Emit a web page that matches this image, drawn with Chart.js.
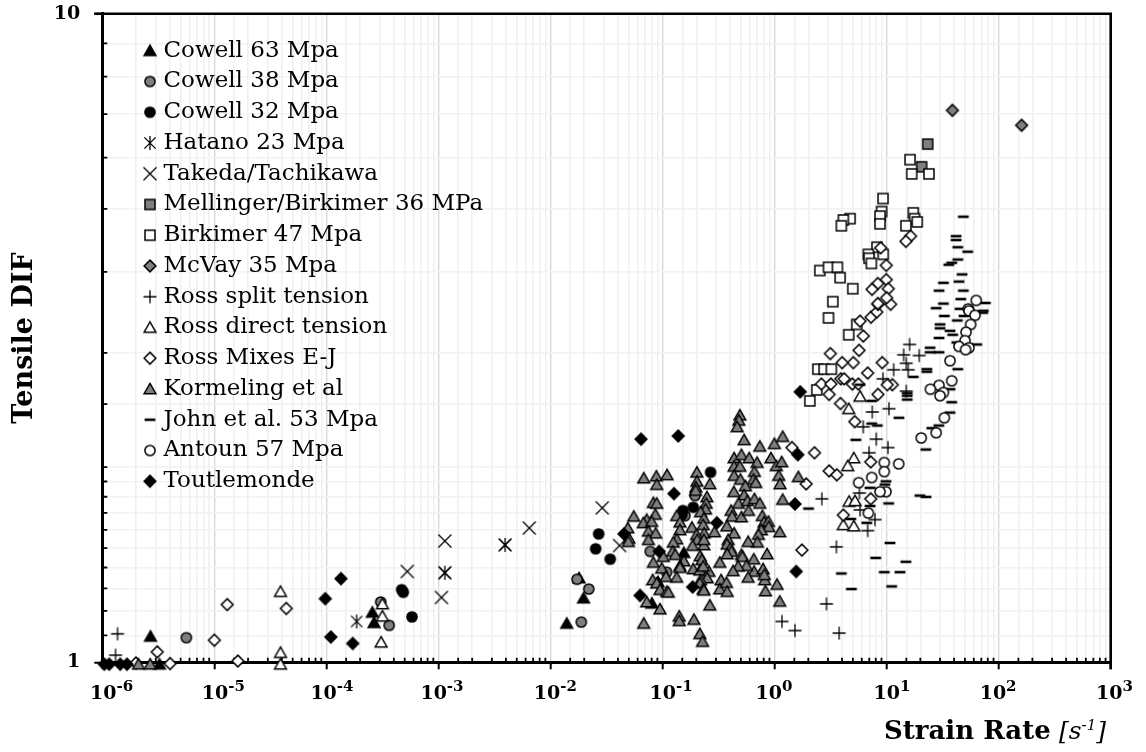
<!DOCTYPE html>
<html>
<head>
<meta charset="utf-8">
<title>Tensile DIF vs strain rate</title>
<script src="https://cdn.jsdelivr.net/npm/chart.js@4"></script>
<style>html,body{margin:0;padding:0;background:#fff}canvas{display:block}</style>
</head>
<body>
<canvas id="c" width="1146" height="752"></canvas>
<script>
// Values, as [log10(strain rate), log10(DIF)].
const cowell63 = [[-5.57,.040],[-5.49,-.003],[-3.59,.077],[-3.575,.061],[-1.855,.060],[-1.705,.099],[-1.745,.130],[-1.095,.091],[-.81,.169],[-1.04,.124]];
const cowell38 = [[-5.25,.038],[-3.515,.093],[-3.44,.057],[-1.763,.128],[-1.658,.113],[-1.725,.062],[-1.11,.171],[-.963,.139],[-.71,.257],[-.80,.226]];
const cowell32 = [[-3.328,.112],[-3.314,.108],[-3.236,.070],[-1.57,.198],[-1.597,.175],[-1.467,.159],[-.818,.234],[-.726,.239],[-.571,.293],[-.829,.227]];
const hatano23 = [[-3.73,.063],[-2.943,.138],[-2.405,.181]];
const takeda = [[-3.278,.140],[-2.943,.187],[-2.973,.100],[-1.538,.238],[-2.189,.207],[-1.383,.180],[-2.943,.138],[-2.405,.181]];
const mellinger36 = [[1.367,.799],[1.313,.764]];
const birkimer47 = [[1.209,.775],[1.224,.753],[1.378,.753],[.968,.715],[.956,.695],[.941,.688],[.941,.676],[1.238,.693],[1.25,.684],[1.273,.679],[1.172,.673],[.674,.684],[.614,.682],[.596,.673],[.914,.640],[.837,.629],[.843,.623],[.97,.629],[.864,.615],[.404,.604],[.481,.609],[.561,.609],[.585,.593],[.698,.576],[.52,.556],[.481,.531],[.662,.505],[.734,.521],[.386,.452],[.442,.452],[.507,.452],[.377,.420],[.315,.403]];
const mcvay35 = [[1.587,.851],[2.205,.828]];
const rossSplit = [[-5.864,.044],[-5.882,.011],[.422,.252],[.552,.178],[.463,.090],[.066,.063],[.182,.049],[.576,.045],[.757,.261],[.763,.235],[.896,.220],[.831,.203],[1.205,.490],[1.152,.474],[1.291,.473],[1.175,.461],[1.193,.451],[1.063,.451],[.968,.437],[1.175,.418],[1.021,.391],[.872,.386],[.792,.363],[.908,.344],[1.012,.331],[.843,.323]];
const rossDirect = [[-4.41,.109],[-4.41,.015],[-4.41,-.003],[-3.50,.090],[-3.50,.071],[-3.512,.031],[.763,.410],[.662,.391],[.707,.315],[.653,.303],[.665,.248],[.718,.249],[.614,.212],[.707,.210]];
const rossMixes = [[-5.70,-.001],[-5.51,.016],[-5.395,-.002],[-5.00,.034],[-4.885,.089],[-4.79,.002],[-4.358,.083],[.155,.331],[.356,.323],[.487,.295],[.555,.289],[.282,.275],[.244,.173],[.716,.371],[.588,.399],[.487,.413],[.418,.429],[.502,.429],[.591,.437],[.621,.437],[.694,.429],[.748,.429],[.923,.413],[1.051,.428],[1.006,.428],[.831,.446],[.961,.462],[.703,.462],[.603,.462],[.498,.476],[.754,.481],[.792,.503],[.763,.526],[.861,.532],[.912,.540],[.923,.552],[1.036,.552],[.858,.309],[.614,.227],[.858,.252],[1.214,.657],[1.172,.649],[.947,.639],[.997,.612],[.997,.590],[.921,.584],[.87,.575],[1.015,.576],[1.0,.562],[.921,.553]];
const kormeling = [[-5.677,-.003],[-5.573,-.003],
[-.31,.381],[-.319,.373],[-.334,.363],[-.272,.343],[-.132,.333],[-.002,.337],[.072,.348],[-.361,.315],[-.296,.320],[-.227,.315],[-.156,.308],[-.032,.315],[.016,.303],[.063,.309],[-.361,.302],[-.31,.302],[-.18,.294],[.037,.288],[.212,.286],[-.361,.288],[-.305,.282],[-.189,.282],[-.168,.277],[.049,.275],
[-1.168,.284],[-1.055,.287],[-.96,.289],[-1.052,.274],[-.693,.293],[-.693,.279],[-.702,.270],[-.705,.265],[-.578,.275],[-.364,.263],[-.26,.272],[-.272,.258],[-.322,.245],[-.242,.249],[-.18,.252],[-.132,.245],[.072,.251],[-.604,.255],[-.61,.245],[-.616,.236],[-1.082,.246],[-1.052,.245],[-1.064,.228],[-1.257,.225],[-1.31,.207],[-1.141,.220],[-1.171,.215],[-1.097,.217],
[-.388,.234],[-.379,.225],[-.296,.224],[-.233,.234],[-.109,.226],[-.094,.216],[-.055,.217],[-.052,.209],[-.118,.204],[-.874,.226],[-.845,.216],[-.845,.204],[-.661,.232],[-.631,.222],[-.738,.208],[-.637,.212],[-.628,.199],[-.696,.197],[-.69,.189],[-.536,.201],[-.426,.210],[-.361,.199],[-1.126,.202],[-1.061,.199],[-1.126,.189],[-1.299,.191],[-1.305,.186],[.046,.201],[-.144,.197],[-.153,.185],[-.236,.186],[-.414,.189],[-.423,.182],[-.394,.176],[-.385,.171],[-.423,.167],
[-.874,.190],[-.904,.185],[-.91,.171],[-.732,.180],[-.631,.181],[-.631,.189],[-.886,.166],[-.993,.163],[-.067,.167],[-.296,.166],[-.287,.163],[-.664,.164],[-.649,.158],[-.489,.154],[-.186,.159],[-.809,.156],[-.845,.149],[-.845,.146],[-1.082,.154],
[-.183,.140],[-.251,.149],[-.325,.148],[-.37,.141],[-.103,.144],[-.088,.127],[-.091,.135],[-.236,.131],[-.726,.144],[-.667,.142],[-.586,.140],[-.637,.148],[-1.008,.145],[-.969,.132],[-.874,.131],[-1.088,.127],[-1.052,.122],[-1.023,.112],[-.963,.109],[-.948,.108],[.022,.120],[-.601,.130],[-.661,.127],[-.667,.122],[-.477,.127],[-.489,.113],[-.429,.123],[-.423,.109],[-.637,.113],[-.631,.111],[-.082,.110],
[.046,.094],[-.578,.088],[-1.023,.082],[-1.141,.093],[-.851,.071],[-.851,.064],[-.72,.066],[-1.168,.060],[-.667,.044],[-.643,.032]];
const john53 = [[1.685,.687],[1.62,.657],[1.62,.651],[1.635,.640],[1.724,.633],[1.635,.621],[1.581,.616],[1.555,.613],[1.673,.598],[1.507,.585],[1.646,.587],[1.468,.573],[1.685,.573],[1.662,.560],[1.507,.553],[1.881,.554],[1.442,.546],[1.655,.545],[1.863,.542],[1.857,.539],[1.515,.534],[1.691,.534],[1.631,.527],[1.477,.521],[1.477,.515],[1.566,.511],[1.59,.505],[1.468,.500],[1.626,.493],[1.804,.490],[1.388,.485],[1.388,.478],[1.468,.478],[1.635,.452],[1.359,.452],[1.359,.448],[1.238,.440],[1.566,.421],[1.184,.415],[1.184,.405],[1.184,.411],[1.581,.401],[1.566,.385],[1.11,.377],[.867,.368],[.917,.365],[1.466,.365],[1.403,.361],[.725,.343],[1.35,.328],[.994,.279],[.985,.274],[.852,.269],[1.297,.257],[1.351,.255],[.867,.403],[.763,.428],[.303,.237],[1.018,.245],[.852,.241],[.68,.221],[.823,.215],[1.03,.184],[.903,.161],[1.172,.155],[.979,.139],[1.119,.139],[.596,.137],[.686,.113],[1.045,.117]];
const antoun57 = [[1.80,.558],[1.729,.545],[1.735,.542],[1.789,.535],[1.75,.521],[1.709,.509],[1.70,.496],[1.646,.487],[1.735,.485],[1.705,.482],[1.566,.465],[1.581,.434],[1.468,.427],[1.391,.421],[1.507,.416],[1.477,.411],[1.515,.377],[1.442,.354],[1.309,.346],[1.108,.306],[.979,.308],[.979,.294],[.867,.285],[.751,.277],[.994,.263],[.941,.263],[.837,.230]];
const toutlemonde = [[-5.982,-.003],[-5.938,-.003],[-5.84,-.003],[-5.78,-.003],[-4.01,.098],[-3.87,.129],[-3.96,.039],[-3.765,.029],[-1.192,.344],[-.86,.349],[-.898,.260],[-.515,.215],[-1.344,.198],[-1.03,.171],[-.731,.116],[-1.201,.103],[.208,.320],[.182,.244],[.193,.140],[.229,.417]];

const xTickBase = '10';
const xTickExponents = ['-6','-5','-4','-3','-2','-1','0','1','2','3'];
const xTickNudge = [-12.3,-12.6,-16,-18,-16.7,-13,-19,-13,-19,-14.7];
const BLACK = '#000', GREY = '#7f7f7f', WHITE = '#fff';
const SERIF = '"DejaVu Serif", serif';

// Marker sprites, shared by the plot and the legend so both have the same size.
function marker(kind, fill) {
  const cv = document.createElement('canvas');
  cv.width = cv.height = 20;
  const g = cv.getContext('2d'), c = 10;
  g.strokeStyle = BLACK; g.fillStyle = fill; g.lineWidth = 1.5; g.lineJoin = 'miter';
  g.beginPath();
  if (kind === 'tri') { g.moveTo(c, c - 5.6); g.lineTo(c + 5.9, c + 4.7); g.lineTo(c - 5.9, c + 4.7); g.closePath(); g.fill(); g.stroke(); }
  if (kind === 'circle') { g.arc(c, c, 5.1, 0, Math.PI * 2); g.fill(); g.stroke(); }
  if (kind === 'square') { g.rect(c - 5, c - 5, 10, 10); g.fill(); g.stroke(); }
  if (kind === 'diamond') { g.moveTo(c, c - 5.9); g.lineTo(c + 5.9, c); g.lineTo(c, c + 5.9); g.lineTo(c - 5.9, c); g.closePath(); g.fill(); g.stroke(); }
  if (kind === 'x') { g.lineWidth = 1.3; g.moveTo(c - 6.5, c - 6.5); g.lineTo(c + 6.5, c + 6.5); g.moveTo(c + 6.5, c - 6.5); g.lineTo(c - 6.5, c + 6.5); g.stroke(); }
  if (kind === 'aster') { g.lineWidth = 1.3; g.moveTo(c - 5.6, c - 5.6); g.lineTo(c + 5.6, c + 5.6); g.moveTo(c + 5.6, c - 5.6); g.lineTo(c - 5.6, c + 5.6); g.moveTo(c, c - 7); g.lineTo(c, c + 7); g.stroke(); }
  if (kind === 'plus') { g.lineWidth = 1.3; g.moveTo(c - 6.5, c); g.lineTo(c + 6.5, c); g.moveTo(c, c - 6.5); g.lineTo(c, c + 6.5); g.stroke(); }
  if (kind === 'dash') { g.lineWidth = 2.6; g.moveTo(c - 5.4, c); g.lineTo(c + 5.4, c); g.stroke(); }
  return cv;
}

const toPoints = rows => rows.map(([logRate, logDIF]) => ({ x: 10 ** logRate, y: 10 ** logDIF }));
const series = (label, rows, style, i) => ({
  label, data: toPoints(rows), pointStyle: style, pointRadius: 6, pointHoverRadius: 6,
  showLine: false, clip: false, order: -i,
  backgroundColor: BLACK, borderColor: BLACK
});

const datasets = [
  ['Cowell 63 Mpa', cowell63, marker('tri', BLACK)],
  ['Cowell 38 Mpa', cowell38, marker('circle', GREY)],
  ['Cowell 32 Mpa', cowell32, marker('circle', BLACK)],
  ['Hatano 23 Mpa', hatano23, marker('aster', BLACK)],
  ['Takeda/Tachikawa', takeda, marker('x', BLACK)],
  ['Mellinger/Birkimer 36 MPa', mellinger36, marker('square', GREY)],
  ['Birkimer 47 Mpa', birkimer47, marker('square', WHITE)],
  ['McVay 35 Mpa', mcvay35, marker('diamond', GREY)],
  ['Ross split tension', rossSplit, marker('plus', BLACK)],
  ['Ross direct tension', rossDirect, marker('tri', WHITE)],
  ['Ross Mixes E-J', rossMixes, marker('diamond', WHITE)],
  ['Kormeling et al', kormeling, marker('tri', GREY)],
  ['John et al. 53 Mpa', john53, marker('dash', BLACK)],
  ['Antoun 57 Mpa', antoun57, marker('circle', WHITE)],
  ['Toutlemonde', toutlemonde, marker('diamond', BLACK)]
].map((d, i) => series(d[0], d[1], d[2], i));

const isDecade = v => Math.abs(Math.log10(v) - Math.round(Math.log10(v))) < 1e-6;
const majorOf = ctx => ctx.tick && isDecade(ctx.tick.value);
const noMargins = s => { s.paddingTop = s.paddingBottom = s.paddingLeft = s.paddingRight = 0; };

const axisFurniture = {
  id: 'axisFurniture',
  afterLayout(chart) {
    chart.legend.left = 140.25;
    chart.legend.top = 31.5;
  },
  beforeDatasetsDraw(chart) {
    const { ctx, chartArea: a, scales: { x, y } } = chart;
    ctx.save();
    ctx.strokeStyle = BLACK;
    // short inward minor ticks
    ctx.lineWidth = 1.8;
    ctx.beginPath();
    x.ticks.forEach(t => { if (!isDecade(t.value)) { const p = x.getPixelForValue(t.value); ctx.moveTo(p, a.bottom); ctx.lineTo(p, a.bottom - 4.5); } });
    y.ticks.forEach(t => { if (!isDecade(t.value)) { const p = y.getPixelForValue(t.value); ctx.moveTo(a.left, p); ctx.lineTo(a.left + 5, p); } });
    ctx.stroke();
    // top and right frame
    ctx.lineWidth = 2.6;
    ctx.beginPath();
    ctx.moveTo(a.left - 8, a.top); ctx.lineTo(a.right, a.top); ctx.lineTo(a.right, a.bottom + 7);
    ctx.stroke();
    ctx.restore();
  },
  afterDraw(chart) {
    const { ctx, scales: { x } } = chart;
    ctx.save();
    ctx.fillStyle = BLACK;
    ctx.textBaseline = 'alphabetic';
    ctx.textAlign = 'left';
    // x-axis tick labels: base plus raised exponent
    xTickExponents.forEach((exp, i) => {
      const left = x.getPixelForValue(10 ** (i - 6)) + xTickNudge[i];
      ctx.font = 'bold 19px ' + SERIF;
      ctx.fillText(xTickBase, left, 698.5);
      const w = ctx.measureText(xTickBase).width;
      ctx.font = 'bold 15px ' + SERIF;
      ctx.fillText(exp, left + w, 691);
    });
    // x-axis title with mixed bold / italic runs
    const baseY = 739;
    ctx.font = 'bold 26px ' + SERIF;
    ctx.fillText('Strain Rate', 884, baseY);
    ctx.font = 'italic 25px ' + SERIF;
    ctx.fillText('[s', 1059, baseY);
    const w = ctx.measureText('[s').width;
    ctx.font = 'italic 15px ' + SERIF;
    ctx.fillText('-1', 1059 + w, baseY - 9);
    const w2 = ctx.measureText('-1').width;
    ctx.font = 'italic 25px ' + SERIF;
    ctx.fillText(']', 1059 + w + w2, baseY);
    ctx.restore();
  }
};

new Chart(document.getElementById('c'), {
  type: 'scatter',
  data: { datasets },
  plugins: [axisFurniture],
  options: {
    responsive: false,
    animation: false,
    devicePixelRatio: 1,
    layout: { padding: { top: 13.7, right: 35.3, left: 0, bottom: 0 } },
    plugins: {
      tooltip: { enabled: false },
      legend: {
        position: 'chartArea',
        align: 'start',
        labels: {
          usePointStyle: true,
          boxWidth: 4,
          boxHeight: 8,
          padding: 7.75,
          color: BLACK,
          font: { family: SERIF, size: 23 },
          sort: (a, b) => a.datasetIndex - b.datasetIndex
        }
      }
    },
    scales: {
      x: {
        type: 'logarithmic',
        min: 1e-6,
        max: 1e3,
        afterFit: s => { s.height = 89.7; noMargins(s); },
        grid: {
          color: ctx => majorOf(ctx) ? '#d9d9d9' : '#f0f0f0',
          lineWidth: ctx => majorOf(ctx) ? 1.4 : 1.5,
          tickColor: ctx => majorOf(ctx) ? BLACK : 'rgba(0,0,0,0)',
          tickWidth: 2,
          tickLength: 7
        },
        border: { color: BLACK, width: 3 },
        ticks: { autoSkip: false, maxRotation: 0, minRotation: 0, padding: 6, callback: () => '' }
      },
      y: {
        type: 'logarithmic',
        min: 1,
        max: 10,
        afterFit: s => { s.width = 102.3; noMargins(s); },
        grid: {
          color: ctx => majorOf(ctx) ? '#d9d9d9' : '#f2f2f2',
          lineWidth: 1.5,
          tickColor: ctx => majorOf(ctx) ? BLACK : 'rgba(0,0,0,0)',
          tickWidth: 2,
          tickLength: 8
        },
        border: { color: BLACK, width: 3 },
        ticks: {
          autoSkip: false, padding: 14,
          color: BLACK,
          font: { family: SERIF, weight: 'bold', size: 19 },
          callback: v => isDecade(v) ? String(Math.round(v)) : ''
        },
        title: {
          display: true,
          text: 'Tensile DIF',
          color: BLACK,
          padding: { top: 9, bottom: 0 },
          font: { family: SERIF, weight: 'bold', size: 27 }
        }
      }
    }
  }
});
</script>
</body>
</html>
